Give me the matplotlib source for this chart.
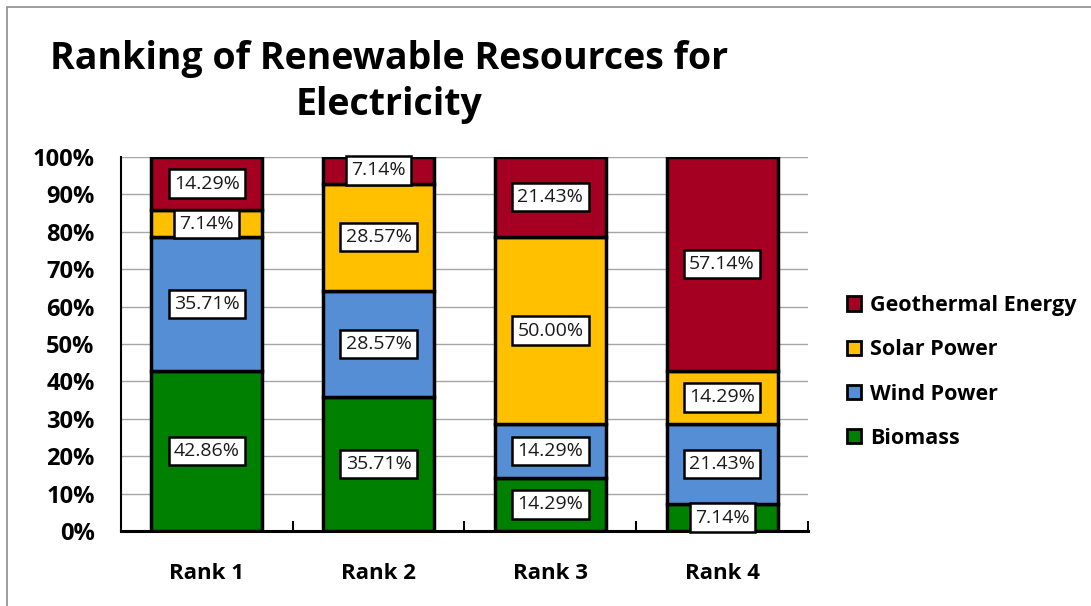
import numpy as np
import matplotlib.pyplot as plt
from matplotlib.patches import Rectangle

plt.rcParams['font.family'] = ['Open Sans', 'DejaVu Sans']

# 数据
ranks = ['Rank 1', 'Rank 2', 'Rank 3', 'Rank 4']
biomass = [42.86, 35.71, 14.29, 7.14]
wind = [35.71, 28.57, 14.29, 21.43]
solar = [7.14, 28.57, 50.00, 14.29]
geothermal = [14.29, 7.14, 21.43, 57.14]

series = [
    ('Biomass', biomass, '#008000'),
    ('Wind Power', wind, '#558ED5'),
    ('Solar Power', solar, '#FFC000'),
    ('Geothermal Energy', geothermal, '#A50021'),
]

fig = plt.figure(figsize=(10.91, 6.06), dpi=100)
ax = fig.add_axes([0.1109, 0.1238, 0.6297, 0.6172])

# 外框
fig.patches.append(Rectangle((7 / 1091, -0.05), 1.1, 1.05 - 7 / 606,
                             transform=fig.transFigure, fill=False,
                             edgecolor='#8c8c8c', linewidth=1.2))

x = np.arange(len(ranks))
bottom = np.zeros(len(ranks))
handles = []
for name, vals, color in series:
    vals = np.array(vals)
    bars = ax.bar(x, vals, 0.645, bottom=bottom, color=color,
                  edgecolor='black', linewidth=2.5, label=name, zorder=3)
    handles.append(bars)
    for xi, b, v in zip(x, bottom, vals):
        ax.text(xi, b + v / 2, f'{v:.2f}%', ha='center', va='center',
                fontsize=14, color='#1a1a1a', zorder=5,
                bbox=dict(boxstyle='square,pad=0.27', facecolor='white',
                          edgecolor='black', linewidth=1.8))
    bottom += vals

ax.set_xlim(-0.5, 3.5)
ax.set_ylim(0, 100)
ax.set_yticks(np.arange(0, 101, 10))
ax.set_yticklabels([f'{v}%' for v in range(0, 101, 10)],
                   fontsize=17, fontweight='bold')
ax.set_xticks(x)
ax.set_xticklabels(ranks, fontsize=16, fontweight='bold')
ax.tick_params(axis='x', length=0, pad=23)
ax.tick_params(axis='y', length=0, pad=19)
ax.set_xticks([0.5, 1.5, 2.5, 3.5], minor=True)
ax.tick_params(axis='x', which='minor', direction='in', length=7, width=1.5)
ax.grid(axis='y', color='#a6a6a6', linewidth=1.0, zorder=0)
for side in ['top', 'right']:
    ax.spines[side].set_visible(False)
ax.spines['left'].set_linewidth(1.5)
ax.spines['bottom'].set_linewidth(2.2)

fig.text(0.357, 0.903, 'Ranking of Renewable Resources for',
         ha='center', va='center', fontsize=27, fontweight='bold')
fig.text(0.357, 0.826, 'Electricity',
         ha='center', va='center', fontsize=27, fontweight='bold')

leg = fig.legend(handles[::-1], [s[0] for s in series][::-1],
                 loc='upper left', bbox_to_anchor=(0.759, 0.545),
                 frameon=False, handlelength=0.65,
                 handleheight=0.65, handletextpad=0.4, labelspacing=1.08,
                 prop={'weight': 'bold', 'size': 15.5})
for h in leg.legend_handles:
    h.set_linewidth(2)

fig.savefig('out.png', dpi=100)
